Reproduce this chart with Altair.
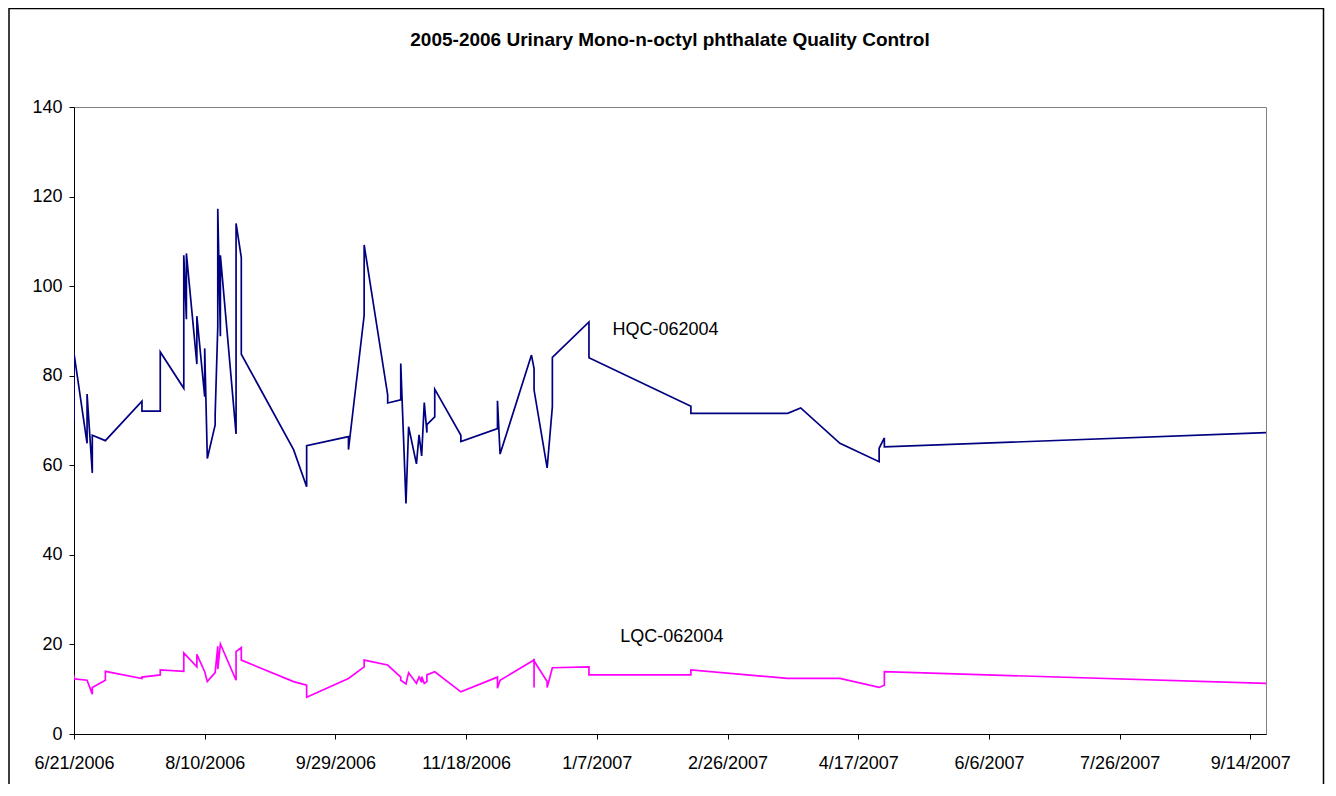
import altair as alt
import pandas as pd

# ---------------- data ----------------
hqc_dates = [
    "2006-06-21", "2006-06-21", "2006-06-26", "2006-06-26", "2006-06-28", "2006-06-28",
    "2006-07-03", "2006-07-17", "2006-07-17", "2006-07-24", "2006-07-24", "2006-08-02",
    "2006-08-02", "2006-08-03", "2006-08-03", "2006-08-07", "2006-08-07", "2006-08-10",
    "2006-08-10", "2006-08-11", "2006-08-14", "2006-08-14", "2006-08-15", "2006-08-15",
    "2006-08-16", "2006-08-16", "2006-08-22", "2006-08-22", "2006-08-24", "2006-08-24",
    "2006-09-13", "2006-09-18", "2006-09-18", "2006-10-04", "2006-10-04", "2006-10-10",
    "2006-10-10", "2006-10-19", "2006-10-19", "2006-10-24", "2006-10-24", "2006-10-26",
    "2006-10-27", "2006-10-30", "2006-10-31", "2006-11-01", "2006-11-02", "2006-11-03",
    "2006-11-03", "2006-11-06", "2006-11-06", "2006-11-16", "2006-11-16", "2006-11-30",
    "2006-11-30", "2006-12-01", "2006-12-13", "2006-12-14", "2006-12-14", "2006-12-19",
    "2006-12-21", "2006-12-21", "2007-01-04", "2007-01-04", "2007-02-12", "2007-02-12",
    "2007-03-21", "2007-03-26", "2007-04-10", "2007-04-25", "2007-04-25", "2007-04-27",
    "2007-04-27", "2007-09-20",
]
hqc_values = [
    69.7, 85.0, 64.9, 75.9, 58.3, 66.7,
    65.5, 74.3, 72.1, 72.1, 85.3, 77.2,
    106.9, 92.6, 107.3, 82.6, 93.3, 75.3,
    86.1, 61.5, 69.0, 71.3, 90.9, 117.3,
    88.8, 106.9, 67.0, 114.0, 106.4, 84.8,
    63.5, 55.2, 64.4, 66.4, 63.5, 93.5,
    109.2, 75.7, 73.9, 74.6, 82.7, 51.5,
    68.6, 60.3, 66.8, 62.1, 74.0, 67.3,
    69.1, 70.8, 77.0, 66.7, 65.3, 68.2,
    74.4, 62.5, 84.6, 81.6, 76.8, 59.4,
    73.1, 84.1, 92.0, 84.0, 73.2, 71.6,
    71.6, 72.8, 64.9, 60.8, 63.8, 66.1,
    64.1, 67.3,
]

lqc_dates = [
    "2006-06-21", "2006-06-21", "2006-06-26", "2006-06-28", "2006-06-28", "2006-07-03",
    "2006-07-03", "2006-07-17", "2006-07-17", "2006-07-24", "2006-07-24", "2006-08-02",
    "2006-08-02", "2006-08-07", "2006-08-07", "2006-08-10", "2006-08-11", "2006-08-14",
    "2006-08-15", "2006-08-15", "2006-08-16", "2006-08-22", "2006-08-22", "2006-08-24",
    "2006-08-24", "2006-09-13", "2006-09-18", "2006-09-18", "2006-10-04", "2006-10-10",
    "2006-10-10", "2006-10-19", "2006-10-24", "2006-10-24", "2006-10-26", "2006-10-27",
    "2006-10-30", "2006-10-31", "2006-11-01", "2006-11-01", "2006-11-02", "2006-11-03",
    "2006-11-03", "2006-11-06", "2006-11-16", "2006-11-30", "2006-11-30", "2006-12-01",
    "2006-12-14", "2006-12-14", "2006-12-14", "2006-12-19", "2006-12-19", "2006-12-21",
    "2007-01-04", "2007-01-04", "2007-02-12", "2007-02-12", "2007-03-21", "2007-04-10",
    "2007-04-25", "2007-04-27", "2007-04-27", "2007-09-20",
]
lqc_values = [
    13.2, 12.3, 12.0, 8.9, 10.4, 12.0,
    14.0, 12.4, 12.7, 13.2, 14.3, 14.0,
    18.1, 15.0, 17.8, 13.9, 11.7, 13.7,
    19.6, 14.5, 20.1, 12.0, 18.4, 19.3,
    16.5, 11.7, 10.9, 8.2, 12.4, 15.0,
    16.5, 15.4, 12.7, 12.0, 11.2, 13.7,
    11.3, 12.7, 11.5, 12.8, 11.3, 11.7,
    13.2, 13.9, 9.4, 12.7, 10.2, 12.0,
    16.5, 10.4, 16.3, 11.7, 10.4, 14.8,
    15.0, 13.2, 13.2, 14.3, 12.4, 12.4,
    10.4, 10.9, 13.9, 11.3,
]

series_names = ["HQC-062004", "LQC-062004"]
series_colors = ["#000080", "#FF00FF"]
label_dates = ["2007-01-13", "2007-01-16"]
label_values = [90.2, 21.7]

title_text = "2005-2006 Urinary Mono-n-octyl phthalate Quality Control"
tick_dates = [(2006, 6, 21), (2006, 8, 10), (2006, 9, 29), (2006, 11, 18), (2007, 1, 7),
              (2007, 2, 26), (2007, 4, 17), (2007, 6, 6), (2007, 7, 26), (2007, 9, 14)]
x_domain = [(2006, 6, 21), (2007, 9, 20)]
y_ticks = [0, 20, 40, 60, 80, 100, 120, 140]

# ---------------- build tables ----------------
rows = []
for i, (d, v) in enumerate(zip(hqc_dates, hqc_values)):
    rows.append({"date": d, "value": v, "series": series_names[0], "idx": i})
for i, (d, v) in enumerate(zip(lqc_dates, lqc_values)):
    rows.append({"date": d, "value": v, "series": series_names[1], "idx": i})
df = pd.DataFrame(rows)

labels = pd.DataFrame({"date": label_dates, "value": label_values, "label": series_names})

FONT = "Liberation Sans"
FS = 18
W, H = 1192, 627


def dt(t):
    return alt.DateTime(year=t[0], month=t[1], date=t[2], utc=True)


x_scale = alt.Scale(type="utc", domain=[dt(t) for t in x_domain], nice=False)
y_scale = alt.Scale(domain=[0, 140], nice=False)

lines = alt.Chart(df).mark_line(strokeWidth=1.7, clip=True).encode(
    x=alt.X(
        "date:T",
        scale=x_scale,
        axis=alt.Axis(
            values=[dt(t) for t in tick_dates],
            format="%-m/%-d/%Y",
            title=None,
            grid=False,
            labelFont=FONT,
            labelFontSize=FS,
            labelColor="#000",
            labelPadding=15,
            tickSize=5,
            tickColor="#000",
            domainColor="#000",
            labelOverlap=False,
            labelFlush=False,
        ),
    ),
    y=alt.Y(
        "value:Q",
        scale=y_scale,
        axis=alt.Axis(
            values=y_ticks,
            title=None,
            grid=False,
            labelFont=FONT,
            labelFontSize=FS,
            labelColor="#000",
            labelPadding=7,
            tickSize=5,
            tickColor="#000",
            domainColor="#000",
        ),
    ),
    color=alt.Color(
        "series:N",
        scale=alt.Scale(domain=series_names, range=series_colors),
        legend=None,
    ),
    order=alt.Order("idx:Q"),
)

text = alt.Chart(labels).mark_text(
    align="left", baseline="middle", font=FONT, fontSize=FS, color="#000"
).encode(
    x=alt.X("date:T", scale=x_scale),
    y=alt.Y("value:Q", scale=y_scale),
    text="label:N",
)

one = pd.DataFrame({"t": [title_text]})

title = alt.Chart(one).mark_text(
    align="center", baseline="middle", font=FONT, fontSize=19, fontWeight="bold", color="#000"
).encode(x=alt.value(W / 2), y=alt.value(-67), text="t:N")

frame = alt.Chart(one).mark_rect(
    fillOpacity=0, stroke="#000", strokeWidth=1.5
).encode(
    x=alt.value(-65), x2=alt.value(1249.5), y=alt.value(-98.5), y2=alt.value(720)
)

chart = (
    alt.layer(frame, lines, text, title)
    .properties(
        width=W,
        height=H,
        padding={"left": 66, "top": 99, "right": 62, "bottom": 50},
        autosize=alt.AutoSizeParams(type="none"),
    )
    .configure_view(stroke="#808080", strokeWidth=1)
)

chart.save("out.html", embed_options={"renderer": "svg", "actions": False})
